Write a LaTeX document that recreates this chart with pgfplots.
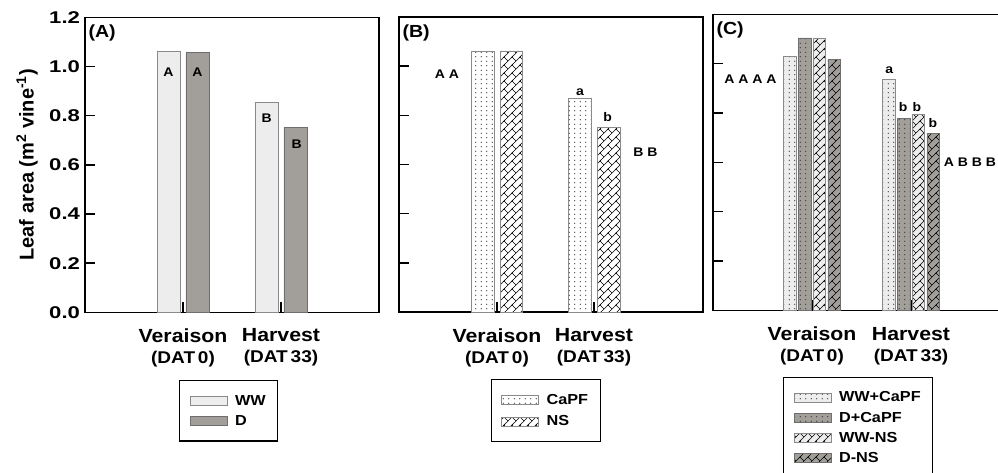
\documentclass[border=0pt]{standalone}
\usepackage{fontspec}
\setmainfont{Liberation Sans Bold}[FakeStretch=1.12]
\newfontfamily\ylabfont{Liberation Sans Bold}
\newfontfamily\tickfont{Liberation Sans Bold}[FakeStretch=1.3]
\usepackage{pgfplots}
\pgfplotsset{compat=1.18}
\usetikzlibrary{patterns}

% fill patterns for the treatment bars
\pgfdeclarepatternformonly{smalldots}{\pgfpoint{-1pt}{-1pt}}{\pgfpoint{6.5pt}{5.5pt}}{\pgfpoint{5.5pt}{4.5pt}}{%
  \pgfpathcircle{\pgfpoint{2.75pt}{2.25pt}}{0.65pt}\pgfusepath{fill}}
\pgfdeclarepatternformonly{diagbrick}{\pgfpoint{-1pt}{-1pt}}{\pgfpoint{9pt}{9pt}}{\pgfpoint{8pt}{8pt}}{%
  \pgfsetlinewidth{0.6pt}%
  \pgfpathmoveto{\pgfpoint{-1pt}{-1pt}}\pgfpathlineto{\pgfpoint{9pt}{9pt}}%
  \pgfpathmoveto{\pgfpoint{4pt}{4pt}}\pgfpathlineto{\pgfpoint{0pt}{8pt}}%
  \pgfusepath{stroke}}

\definecolor{wwfill}{HTML}{EDEDED}
\definecolor{wwedge}{HTML}{8A8A8A}
\definecolor{dfill}{HTML}{A29E9A}
\definecolor{dedge}{HTML}{6E6E6E}

\tikzset{
  letter/.style={font=\fontsize{12.5}{13}\selectfont},
  tag/.style={font=\fontsize{17.5}{18}\selectfont, anchor=west},
}

\pgfplotsset{
  panel/.style={
    scale only axis, ymin=0, ymax=1.2, clip=false,
    axis line style={line width=1.4pt},
    tick align=inside, major tick length=10pt,
    tick style={black, line width=1.4pt},
    xtick={1,2}, ytick={0,0.2,0.4,0.6,0.8,1.0,1.2},
    xtick pos=bottom, ytick pos=left,
    xticklabels={{Veraison\\{\fontsize{17}{19}\selectfont (DAT\,0)}},{Harvest\\{\fontsize{17}{19}\selectfont (DAT\,33)}}},
    xticklabel style={align=center, font=\fontsize{19}{21}\selectfont, yshift=-13pt},
    yticklabel style={font=\tickfont\fontsize{17}{17}\selectfont, xshift=-1.5pt,
      /pgf/number format/fixed, /pgf/number format/fixed zerofill,
      /pgf/number format/precision=1, /pgf/number format/assume math mode=true},
    legend cell align=left,
    legend style={anchor=north west, draw=black, line width=1.2pt,
      font=\fontsize{14.5}{16}\selectfont,
      inner xsep=10pt, inner ysep=12.5pt, row sep=4.5pt},
  },
  % swatch for the legend, with room before the entry text
  bar/.style={ybar, bar width=#1, bar shift=0pt, line width=0.8pt,
    legend image code/.code={\draw[##1, line width=0.7pt] (0pt,-4.5pt) rectangle (37pt,4.5pt);
      \pgfpathmoveto{\pgfpoint{43pt}{0pt}}\pgfusepath{discard}}},
}

\begin{document}
\begin{tikzpicture}

% (A) water regime
\begin{axis}[panel, at={(85pt,160.7pt)}, anchor=south west,
  width=294pt, height=294.8pt, xmin=0, xmax=3,
  ylabel={\ylabfont Leaf area (m\textsuperscript{2} vine\textsuperscript{-1})},
  every axis y label/.style={at={(axis description cs:-0.197,0.5)}, rotate=90, anchor=center,
    font=\fontsize{20}{20}\selectfont},
  legend style={at={(0.32,-0.2296)}}]
\addplot[bar=0.235, fill=wwfill, draw=wwedge] coordinates {(0.852,1.063) (1.852,0.855)};
\addplot[bar=0.235, fill=dfill, draw=dedge] coordinates {(1.148,1.058) (2.148,0.754)};
\legend{WW, D}
\node[letter] at (axis cs:0.852,0.978) {A};
\node[letter] at (axis cs:1.148,0.978) {A};
\node[letter] at (axis cs:1.854,0.789) {B};
\node[letter] at (axis cs:2.160,0.683) {B};
\node[tag] at (axis description cs:0.0,0.947) {(A)};
\end{axis}

% (B) foliar treatment
\begin{axis}[panel, at={(399pt,161pt)}, anchor=south west,
  width=304pt, height=295pt, xmin=-0.01, xmax=3.124, yticklabels={},
  legend style={at={(0.3016,-0.227)}, row sep=6pt}]
\addplot[bar=0.235, fill=white, draw=wwedge, postaction={pattern=smalldots, pattern color=black!80}]
  coordinates {(0.853,1.062) (1.853,0.868)};
\addplot[bar=0.235, fill=white, draw=wwedge, postaction={pattern=diagbrick, pattern color=black}]
  coordinates {(1.149,1.062) (2.150,0.751)};
\legend{CaPF, NS}
\node[letter] at (axis cs:0.485,0.968) {A A};
\node[letter] at (axis cs:1.856,0.895) {a};
\node[letter] at (axis cs:2.140,0.794) {b};
\node[letter] at (axis cs:2.531,0.651) {B B};
\node[tag] at (axis description cs:0.0,0.947) {(B)};
\end{axis}

% (C) water regime x foliar treatment
\begin{axis}[panel, at={(713pt,162.5pt)}, anchor=south west,
  width=297pt, height=296.2pt, xmin=0, xmax=3, yticklabels={},
  legend style={at={(0.236,-0.2235)}}]
\addplot[bar=0.128, fill=wwfill, draw=wwedge, postaction={pattern=smalldots, pattern color=black!80}]
  coordinates {(0.775,1.031) (1.775,0.935)};
\addplot[bar=0.128, fill=dfill, draw=dedge, postaction={pattern=smalldots, pattern color=black!80}]
  coordinates {(0.925,1.104) (1.925,0.777)};
\addplot[bar=0.128, fill=wwfill, draw=wwedge, postaction={pattern=diagbrick, pattern color=black}]
  coordinates {(1.075,1.102) (2.075,0.794)};
\addplot[bar=0.128, fill=dfill, draw=dedge, postaction={pattern=diagbrick, pattern color=black}]
  coordinates {(1.225,1.018) (2.225,0.717)};
\legend{WW+CaPF, D+CaPF, WW-NS, D-NS}
\node[letter] at (axis cs:0.379,0.938) {A A A A};
\node[letter] at (axis cs:1.781,0.974) {a};
\node[letter] at (axis cs:1.921,0.825) {b};
\node[letter] at (axis cs:2.060,0.825) {b};
\node[letter] at (axis cs:2.222,0.760) {b};
\node[letter] at (axis cs:2.596,0.602) {A B B B};
\node[tag] at (axis description cs:0.0,0.947) {(C)};
\end{axis}

\pgfresetboundingbox
\path[use as bounding box] (0pt,0pt) rectangle (998pt,473pt);
\end{tikzpicture}
\end{document}
